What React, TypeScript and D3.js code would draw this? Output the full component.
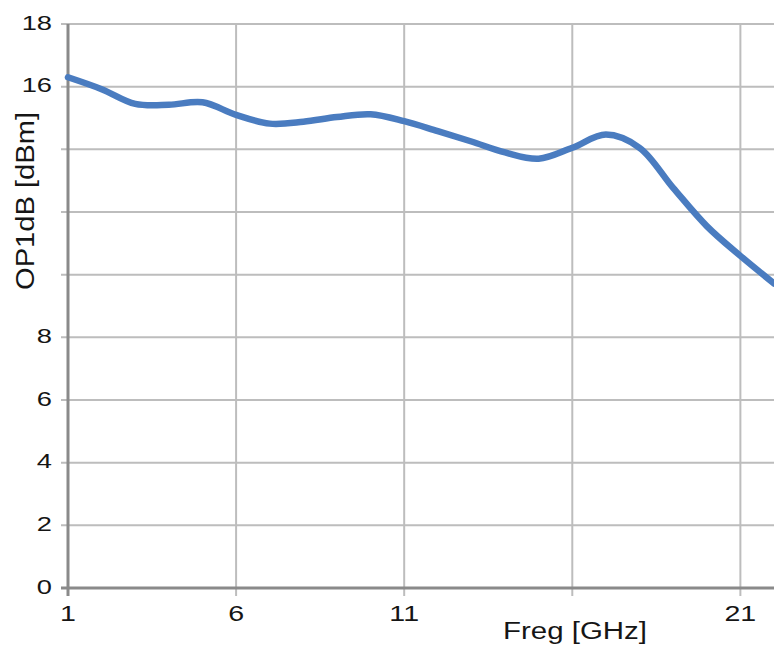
import React, { useEffect, useRef } from 'react';
import * as d3 from 'd3';

// frequency in GHz and measured output P1dB in dBm
const freqs = [1, 2, 3, 4, 5, 6, 7, 8, 9, 10, 11, 12, 13, 14, 15, 16, 17, 18, 19, 20, 21, 22];
const op1db = [16.3, 15.92, 15.45, 15.42, 15.5, 15.1, 14.82, 14.88, 15.03, 15.12, 14.9, 14.58, 14.25, 13.9, 13.7, 14.05, 14.47, 14.05, 12.77, 11.55, 10.6, 9.72];

const xTicks = [1, 6, 11, 16, 21];
const xLabelled = [1, 6, 11, 21];
const yTicks = [0, 2, 4, 6, 8, 10, 12, 14, 16, 18];
const yLabelled = [0, 2, 4, 6, 8, 16, 18];

const width = 774;
const height = 653;
const margin = { top: 24, right: 0, bottom: 65, left: 68 };

const App: React.FC = () => {
	const ref = useRef<SVGSVGElement>(null);

	useEffect(() => {
		if (!ref.current) return;
		const svg = d3.select(ref.current);
		svg.selectAll('*').remove();

		const x = d3
			.scaleLinear()
			.domain([1, 22])
			.range([margin.left, width - margin.right]);
		const y = d3
			.scaleLinear()
			.domain([0, 18])
			.range([height - margin.bottom, margin.top]);

		const font = 'Liberation Sans, Arial, sans-serif';
		const textColor = '#151515';
		const stretch = 1.3; // glyphs in the source are a bit wide

		// --- grid ---
		const grid = svg.append('g');
		grid
			.selectAll('.hgrid')
			.data(yTicks.filter((t) => t !== 0))
			.enter()
			.append('line')
			.attr('x1', margin.left - 7)
			.attr('x2', width)
			.attr('y1', (d) => y(d))
			.attr('y2', (d) => y(d))
			.attr('stroke', '#bdbdbd')
			.attr('stroke-width', 2);
		grid
			.selectAll('.vgrid')
			.data(xTicks.filter((t) => t !== 1))
			.enter()
			.append('line')
			.attr('x1', (d) => x(d))
			.attr('x2', (d) => x(d))
			.attr('y1', margin.top)
			.attr('y2', height - margin.bottom + 8)
			.attr('stroke', '#bdbdbd')
			.attr('stroke-width', 2);

		// --- axes lines ---
		svg
			.append('line')
			.attr('x1', margin.left - 7)
			.attr('x2', width)
			.attr('y1', y(0))
			.attr('y2', y(0))
			.attr('stroke', '#8a8a8a')
			.attr('stroke-width', 3);
		svg
			.append('line')
			.attr('x1', x(1))
			.attr('x2', x(1))
			.attr('y1', margin.top)
			.attr('y2', y(0) + 8)
			.attr('stroke', '#8a8a8a')
			.attr('stroke-width', 3);

		// --- tick labels ---
		svg
			.selectAll('.ylab')
			.data(yLabelled)
			.enter()
			.append('text')
			.attr(
				'transform',
				(d) => `translate(${margin.left - 16}, ${y(d) - 2}) scale(${stretch}, 1)`,
			)
			.attr('dy', '0.36em')
			.attr('text-anchor', 'end')
			.attr('font-family', font)
			.attr('font-size', 21)
			.attr('fill', textColor)
			.text((d) => d);

		svg
			.selectAll('.xlab')
			.data(xLabelled)
			.enter()
			.append('text')
			.attr(
				'transform',
				(d) => `translate(${x(d)}, ${y(0) + 33}) scale(${stretch}, 1)`,
			)
			.attr('text-anchor', 'middle')
			.attr('font-family', font)
			.attr('font-size', 22)
			.attr('fill', textColor)
			.text((d) => d);

		// --- axis titles ---
		svg
			.append('text')
			.attr('transform', `translate(34, 201) rotate(-90)`)
			.attr('text-anchor', 'middle')
			.attr('font-family', font)
			.attr('font-size', 26)
			.attr('textLength', 178)
			.attr('lengthAdjust', 'spacingAndGlyphs')
			.attr('fill', textColor)
			.text('OP1dB [dBm]');
		svg
			.append('text')
			.attr('x', 503)
			.attr('y', 639)
			.attr('font-family', font)
			.attr('font-size', 23)
			.attr('textLength', 144)
			.attr('lengthAdjust', 'spacingAndGlyphs')
			.attr('fill', textColor)
			.text('Freg [GHz]');

		// --- data line ---
		const line = d3
			.line<number>()
			.x((_, i) => x(freqs[i]))
			.y((d) => y(d))
			.curve(d3.curveCatmullRom.alpha(0.5));

		svg
			.append('path')
			.datum(op1db)
			.attr('d', line)
			.attr('fill', 'none')
			.attr('stroke', '#4a7cc0')
			.attr('stroke-width', 6.5)
			.attr('stroke-linecap', 'round');
	}, []);

	return (
		<svg
			ref={ref}
			width={width}
			height={height}
			style={{ position: 'absolute', left: 0, top: 0, background: '#fff' }}
		/>
	);
};

export default App;
